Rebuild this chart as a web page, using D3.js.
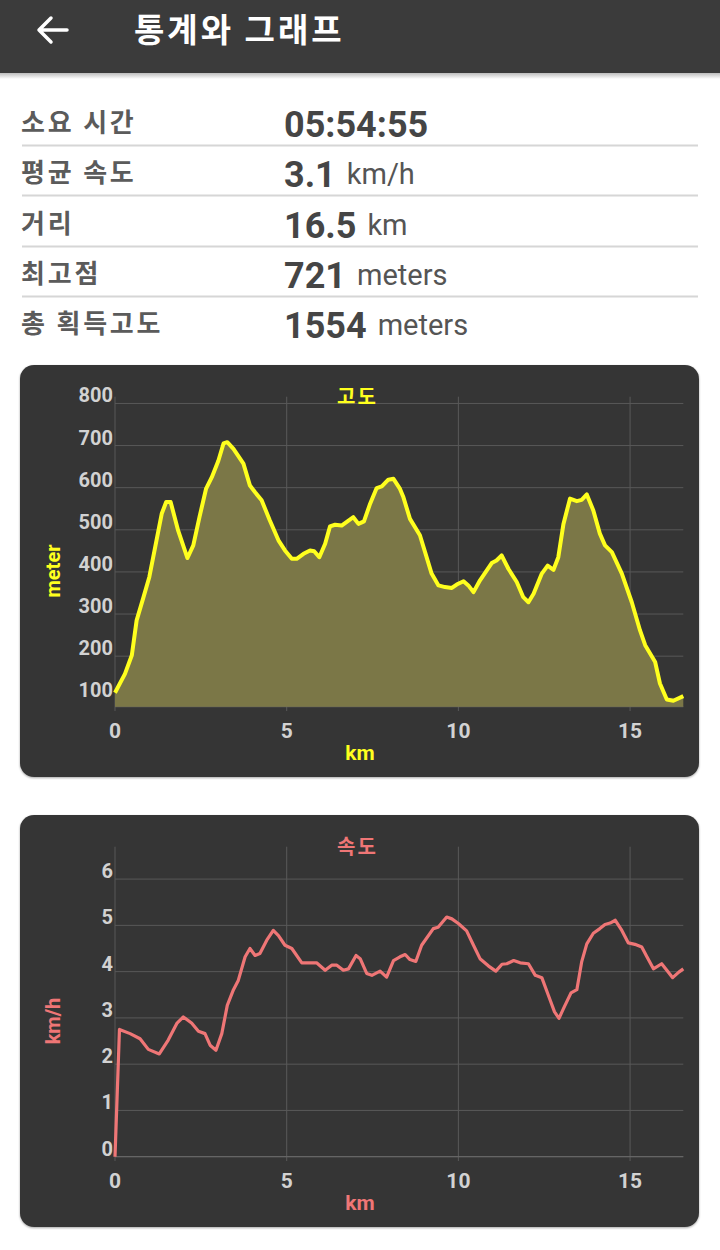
<!DOCTYPE html>
<html>
<head>
<meta charset="utf-8">
<script src="https://cdn.jsdelivr.net/npm/d3@7"></script>
<style>
  body { margin: 0; background: #fff; }
  svg text { font-family: "Roboto", "Noto Sans CJK KR", sans-serif; }
  svg text.ko { font-family: "Noto Sans CJK KR", "Roboto", sans-serif; }
</style>
</head>
<body>
<div id="chart"></div>
<script>
// Statistiques
const statLabels = ["소요 시간", "평균 속도", "거리", "최고점", "총 획득고도"];
const statValues = ["05:54:55", "3.1", "16.5", "721", "1554"];
const statUnits = ["", "km/h", "km", "meters", "meters"];

// Profil d'altitude (km, m)
const elevKm = [0, 0.29, 0.49, 0.63, 0.83, 1.0, 1.17, 1.36, 1.49, 1.62, 1.84, 2.11, 2.28, 2.46, 2.65, 2.82, 3.01, 3.16, 3.27, 3.45,
  3.74, 3.93, 4.08, 4.27, 4.51, 4.76, 4.95, 5.15, 5.29, 5.49, 5.68, 5.8, 5.95, 6.12, 6.26, 6.41, 6.6, 6.8, 6.94, 7.09,
  7.25, 7.43, 7.62, 7.77, 7.96, 8.11, 8.3, 8.4, 8.59, 8.88, 9.03, 9.22, 9.42, 9.61, 9.81, 9.95, 10.15, 10.29, 10.44, 10.63,
  10.97, 11.11, 11.26, 11.46, 11.7, 11.89, 12.04, 12.19, 12.43, 12.6, 12.77, 12.91, 13.06, 13.25, 13.45, 13.59, 13.74, 13.93, 14.12, 14.27,
  14.47, 14.76, 15.05, 15.29, 15.44, 15.73, 15.87, 16.07, 16.26, 16.55];
const elevM = [113, 158, 202, 285, 340, 388, 459, 538, 566, 566, 498, 433, 463, 530, 597, 625, 664, 705, 708, 692,
  657, 605, 589, 570, 522, 475, 451, 431, 431, 443, 451, 449, 435, 467, 508, 512, 510, 522, 530, 514,
  520, 562, 599, 603, 619, 621, 597, 577, 526, 487, 447, 396, 368, 364, 362, 370, 378, 368, 352, 380,
  421, 427, 439, 407, 376, 340, 328, 348, 396, 415, 405, 435, 514, 574, 568, 571, 584, 546, 491, 463,
  447, 396, 328, 261, 226, 186, 135, 97, 94, 105];

// Vitesse (km, km/h)
const speedKm = [0, 0.13, 0.44, 0.73, 0.97, 1.29, 1.55, 1.8, 1.99, 2.23, 2.43, 2.62, 2.77, 2.94, 3.11, 3.27, 3.45, 3.59, 3.79, 3.93,
  4.08, 4.22, 4.42, 4.61, 4.76, 4.95, 5.15, 5.44, 5.68, 5.87, 6.12, 6.31, 6.46, 6.65, 6.8, 7.02, 7.14, 7.33, 7.48, 7.72,
  7.91, 8.11, 8.3, 8.45, 8.59, 8.76, 8.93, 9.27, 9.41, 9.66, 9.81, 10.0, 10.24, 10.44, 10.63, 10.88, 11.09, 11.27, 11.41, 11.61,
  11.8, 12.04, 12.24, 12.43, 12.62, 12.8, 12.93, 13.06, 13.28, 13.45, 13.59, 13.74, 13.93, 14.12, 14.27, 14.42, 14.57, 14.76, 14.95, 15.14,
  15.34, 15.49, 15.68, 15.92, 16.07, 16.24, 16.42, 16.55];
const speedKmh = [0, 2.75, 2.66, 2.55, 2.32, 2.22, 2.52, 2.88, 3.02, 2.89, 2.71, 2.66, 2.41, 2.30, 2.66, 3.27, 3.61, 3.81, 4.32, 4.50,
  4.35, 4.39, 4.68, 4.89, 4.78, 4.57, 4.50, 4.19, 4.19, 4.19, 4.03, 4.14, 4.14, 4.03, 4.06, 4.35, 4.28, 3.96, 3.92, 4.01,
  3.88, 4.24, 4.32, 4.37, 4.26, 4.22, 4.57, 4.93, 4.96, 5.18, 5.14, 5.04, 4.88, 4.57, 4.28, 4.12, 4.01, 4.16, 4.17, 4.24,
  4.19, 4.17, 3.92, 3.87, 3.49, 3.13, 2.99, 3.20, 3.54, 3.61, 4.21, 4.60, 4.83, 4.93, 5.02, 5.05, 5.11, 4.89, 4.62, 4.59,
  4.53, 4.32, 4.06, 4.17, 4.03, 3.87, 3.99, 4.06];

const xTicks = [0, 5, 10, 15];
const elevTicks = [100, 200, 300, 400, 500, 600, 700, 800];
const speedTicks = [0, 1, 2, 3, 4, 5, 6];

const width = 720, height = 1250;
const svg = d3.select("#chart")
  .append("svg")
  .attr("width", width)
  .attr("height", height);

const defs = svg.append("defs");
defs.append("filter")
  .attr("id", "cardShadow")
  .attr("x", "-5%").attr("y", "-5%").attr("width", "110%").attr("height", "110%")
  .append("feDropShadow")
  .attr("dx", 0).attr("dy", 1).attr("stdDeviation", 1.2)
  .attr("flood-color", "#000").attr("flood-opacity", 0.35);
const hdrGrad = defs.append("linearGradient")
  .attr("id", "hdrShadow").attr("x1", 0).attr("y1", 0).attr("x2", 0).attr("y2", 1);
hdrGrad.append("stop").attr("offset", 0).attr("stop-color", "#bdbdbd");
hdrGrad.append("stop").attr("offset", 1).attr("stop-color", "#fff");

// Barre de titre
svg.append("rect").attr("x", 0).attr("y", 73).attr("width", width).attr("height", 6)
  .attr("fill", "url(#hdrShadow)");
svg.append("rect").attr("x", 0).attr("y", 0).attr("width", width).attr("height", 73)
  .attr("fill", "#3b3b3b");
svg.append("path")
  .attr("d", "M39,30 L67,30 M39,30 L51,18 M39,30 L51,42")
  .attr("fill", "none").attr("stroke", "#fff").attr("stroke-width", 3.5)
  .attr("stroke-linecap", "round").attr("stroke-linejoin", "round");
svg.append("text")
  .attr("class", "ko")
  .attr("x", 134).attr("y", 42)
  .attr("fill", "#fff")
  .style("font-size", "33px").style("font-weight", "bold")
  .style("letter-spacing", "3px")
  .text("통계와 그래프");

// Tableau des statistiques
const rowBase = [137, 187, 238, 288, 338];
statLabels.forEach((lab, i) => {
  svg.append("text")
    .attr("class", "ko")
    .attr("x", 21).attr("y", rowBase[i] - 5)
    .attr("fill", "#5b5b5b")
    .style("font-size", "26px").style("font-weight", "bold")
    .style("letter-spacing", "2.8px")
    .text(lab);
  const val = svg.append("text")
    .attr("x", 284).attr("y", rowBase[i])
    .attr("fill", "#454545")
    .style("font-size", "36px").style("font-weight", "bold")
    .text(statValues[i]);
  if (statUnits[i]) {
    const w = val.node().getComputedTextLength();
    svg.append("text")
      .attr("x", 284 + w + 11).attr("y", rowBase[i] - 3)
      .attr("fill", "#555")
      .style("font-size", "29px")
      .text(statUnits[i]);
  }
  if (i < statLabels.length - 1) {
    svg.append("line")
      .attr("x1", 22).attr("x2", 698)
      .attr("y1", rowBase[i] + 8.5).attr("y2", rowBase[i] + 8.5)
      .attr("stroke", "#d6d6d6").attr("stroke-width", 2);
  }
});

// Carte de graphique
function drawCard(top, opts) {
  const g = svg.append("g");
  g.append("rect")
    .attr("x", 20).attr("y", top).attr("width", 679).attr("height", 412)
    .attr("rx", 14)
    .attr("fill", "#363636")
    .attr("filter", "url(#cardShadow)");

  const x = d3.scaleLinear().domain([0, 16.55]).range([115, 683.3]);
  const y = d3.scaleLinear().domain(opts.yDomain).range([top + 341.7, top + 31.7]);

  // Grille
  g.selectAll(".hgrid").data(opts.yTicks).join("line")
    .attr("x1", x(0)).attr("x2", x(16.55))
    .attr("y1", d => y(d)).attr("y2", d => y(d))
    .attr("stroke", "#595959").attr("stroke-width", 1);
  g.selectAll(".vgrid").data(xTicks).join("line")
    .attr("x1", d => x(d)).attr("x2", d => x(d))
    .attr("y1", top + 31.7).attr("y2", top + 346)
    .attr("stroke", "#595959").attr("stroke-width", 1);
  g.append("line")
    .attr("x1", x(0)).attr("x2", x(16.55))
    .attr("y1", top + 341.7).attr("y2", top + 341.7)
    .attr("stroke", "#6a6a6a").attr("stroke-width", 1);

  const pts = opts.xs.map((d, i) => [d, opts.ys[i]]);
  if (opts.fill) {
    const area = d3.area()
      .x(d => x(d[0]))
      .y0(y(opts.yDomain[0]))
      .y1(d => y(d[1]));
    g.append("path").datum(pts)
      .attr("d", area)
      .attr("fill", opts.fill);
  }
  const line = d3.line()
    .x(d => x(d[0]))
    .y(d => y(d[1]));
  g.append("path").datum(pts)
    .attr("d", line)
    .attr("fill", "none")
    .attr("stroke", opts.color)
    .attr("stroke-width", opts.strokeWidth)
    .attr("stroke-linejoin", "round");

  // Libellés des axes
  g.selectAll(".ylab").data(opts.yTicks).join("text")
    .attr("x", 113).attr("y", d => y(d) - 1)
    .attr("text-anchor", "end")
    .attr("fill", "#d2d2d2")
    .style("font-size", "20px").style("font-weight", "bold")
    .text(d => d);
  g.selectAll(".xlab").data(xTicks).join("text")
    .attr("x", d => x(d)).attr("y", top + 373)
    .attr("text-anchor", "middle")
    .attr("fill", "#d2d2d2")
    .style("font-size", "21px").style("font-weight", "bold")
    .text(d => d);

  g.append("text")
    .attr("class", "ko")
    .attr("x", 337).attr("y", top + 39)
    .attr("fill", opts.color)
    .style("font-size", "20px").style("font-weight", "bold")
    .style("letter-spacing", "2px")
    .text(opts.title);
  g.append("text")
    .attr("x", 360).attr("y", top + 395)
    .attr("text-anchor", "middle")
    .attr("fill", opts.color)
    .style("font-size", "21px").style("font-weight", "bold")
    .text("km");
  g.append("text")
    .attr("transform", `translate(53, ${top + 206}) rotate(-90)`)
    .attr("text-anchor", "middle")
    .attr("dominant-baseline", "central")
    .attr("fill", opts.color)
    .style("font-size", "20px").style("font-weight", "bold")
    .text(opts.yLabel);
}

drawCard(365, {
  title: "고도", yLabel: "meter",
  xs: elevKm, ys: elevM,
  yDomain: [80, 816], yTicks: elevTicks,
  color: "#ffff1e", fill: "#7b7747", strokeWidth: 4
});

drawCard(815, {
  title: "속도", yLabel: "km/h",
  xs: speedKm, ys: speedKmh,
  yDomain: [0, 6.7], yTicks: speedTicks,
  color: "#ef7676", fill: null, strokeWidth: 3.2
});
</script>
</body>
</html>
